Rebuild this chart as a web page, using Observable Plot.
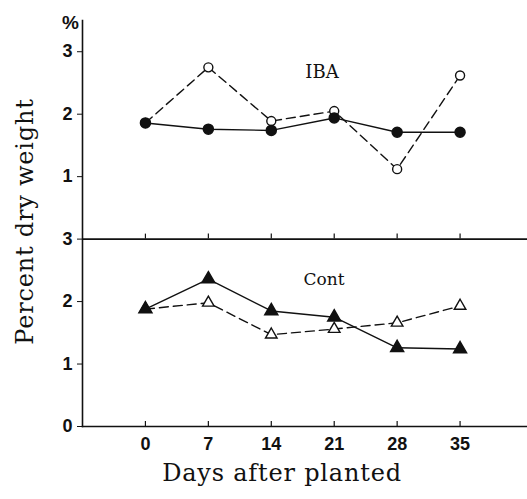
<!DOCTYPE html>
<html>
<head>
<meta charset="utf-8">
<script src="https://cdn.jsdelivr.net/npm/d3@7"></script>
<script src="https://cdn.jsdelivr.net/npm/@observablehq/plot@0.6"></script>
<style>
  body { margin: 0; background: white; }
</style>
</head>
<body>
<div id="chart"></div>
<script>
const days = [0, 7, 14, 21, 28, 35];
const ibaFilled = [1.86, 1.76, 1.74, 1.94, 1.71, 1.71];
const ibaOpen = [1.86, 2.75, 1.89, 2.05, 1.12, 2.62];
const contFilled = [1.88, 2.36, 1.85, 1.75, 1.26, 1.24];
const contOpen = [1.88, 1.98, 1.47, 1.56, 1.66, 1.93];
const panels = ["IBA", "Cont"];
const panelOffset = {IBA: 3, Cont: 0};
const yTicks = [0, 1, 2, 3, 4, 5, 6];
const yTickLabels = ["0", "1", "2", "3", "1", "2", "3"];

const series = [
  {panel: "IBA", kind: "filled", values: ibaFilled},
  {panel: "IBA", kind: "open", values: ibaOpen},
  {panel: "Cont", kind: "filled", values: contFilled},
  {panel: "Cont", kind: "open", values: contOpen}
];
const rows = series.flatMap(s => s.values.map((v, i) => ({
  day: days[i], value: v, panel: s.panel, kind: s.kind,
  key: s.panel + "-" + s.kind, pos: v + panelOffset[s.panel]
})));
const sel = (p, k) => rows.filter(r => r.panel === p && r.kind === k);

const sans = "Liberation Sans, Arial, Helvetica, sans-serif";
const serif = "DejaVu Serif, serif";
const ink = "#111";

const tickRows = Object.values(panelOffset).flatMap(b => days.map(d => ({day: d, base: b})));

const chart = Plot.plot({
  width: 527,
  height: 499,
  marginLeft: 82,
  marginRight: 0,
  marginTop: 20,
  marginBottom: 73,
  x: {domain: [-7, 42.5]},
  y: {domain: [0, 6.5]},
  style: {background: "white", color: ink},
  marks: [
    Plot.frame({anchor: "left", stroke: ink, strokeWidth: 1.6}),
    Plot.frame({anchor: "bottom", stroke: ink, strokeWidth: 1.6}),
    Plot.ruleY([panelOffset.IBA], {stroke: ink, strokeWidth: 1.6}),
    Plot.ruleX(tickRows, {x: "day", y1: "base", y2: d => d.base + 0.08, stroke: ink, strokeWidth: 1.2}),
    Plot.axisY({ticks: yTicks, tickFormat: d => yTickLabels[yTicks.indexOf(d)], tickSize: 5, tickPadding: 5,
      fontSize: 18, fontWeight: "bold", fontFamily: sans, label: null, stroke: ink}),
    Plot.axisX({ticks: days, tickSize: 0, tickPadding: 11, fontSize: 18, fontWeight: "bold", fontFamily: sans, label: null}),
    // lines
    ...panels.map(p => Plot.line(sel(p, "filled"), {x: "day", y: "pos", stroke: ink, strokeWidth: 1.4})),
    ...panels.map(p => Plot.line(sel(p, "open"), {x: "day", y: "pos", stroke: ink, strokeWidth: 1.4, strokeDasharray: "9,5"})),
    // markers
    Plot.dot(sel("IBA", "open"), {x: "day", y: "pos", r: 4.5, fill: "white", stroke: ink, strokeWidth: 1.4}),
    Plot.dot(sel("IBA", "filled"), {x: "day", y: "pos", r: 5, fill: ink, stroke: ink}),
    Plot.dot(sel("Cont", "open"), {x: "day", y: "pos", r: 4.3, symbol: "triangle", fill: "white", stroke: ink, strokeWidth: 1.4}),
    Plot.dot(sel("Cont", "filled"), {x: "day", y: "pos", r: 4.8, symbol: "triangle", fill: ink, stroke: ink}),
    // panel labels
    Plot.text(["IBA"], {frameAnchor: "top", dx: 17, dy: 45, fontFamily: serif, fontSize: 18, fill: ink}),
    Plot.text(["Cont"], {frameAnchor: "top", dx: 19, dy: 252, fontFamily: serif, fontSize: 17, fill: ink}),
    // axis titles
    Plot.text(["%"], {frameAnchor: "top-left", textAnchor: "middle", dx: -12, dy: -5, fontFamily: sans, fontWeight: "bold", fontSize: 19, fill: ink}),
    Plot.text(["Percent dry weight"], {frameAnchor: "left", textAnchor: "middle", rotate: -90, dx: -57, dy: -2, fontFamily: serif, fontSize: 24, fill: ink}),
    Plot.text(["Days after planted"], {frameAnchor: "bottom", textAnchor: "middle", dx: -23, dy: 54, fontFamily: serif, fontSize: 24, fill: ink})
  ]
});
document.getElementById("chart").appendChild(chart);
d3.select(chart).selectAll("text").filter(function() {
  const t = this.textContent;
  return t === "Percent dry weight" || t === "Days after planted";
}).attr("letter-spacing", "0.8px");
</script>
</body>
</html>
